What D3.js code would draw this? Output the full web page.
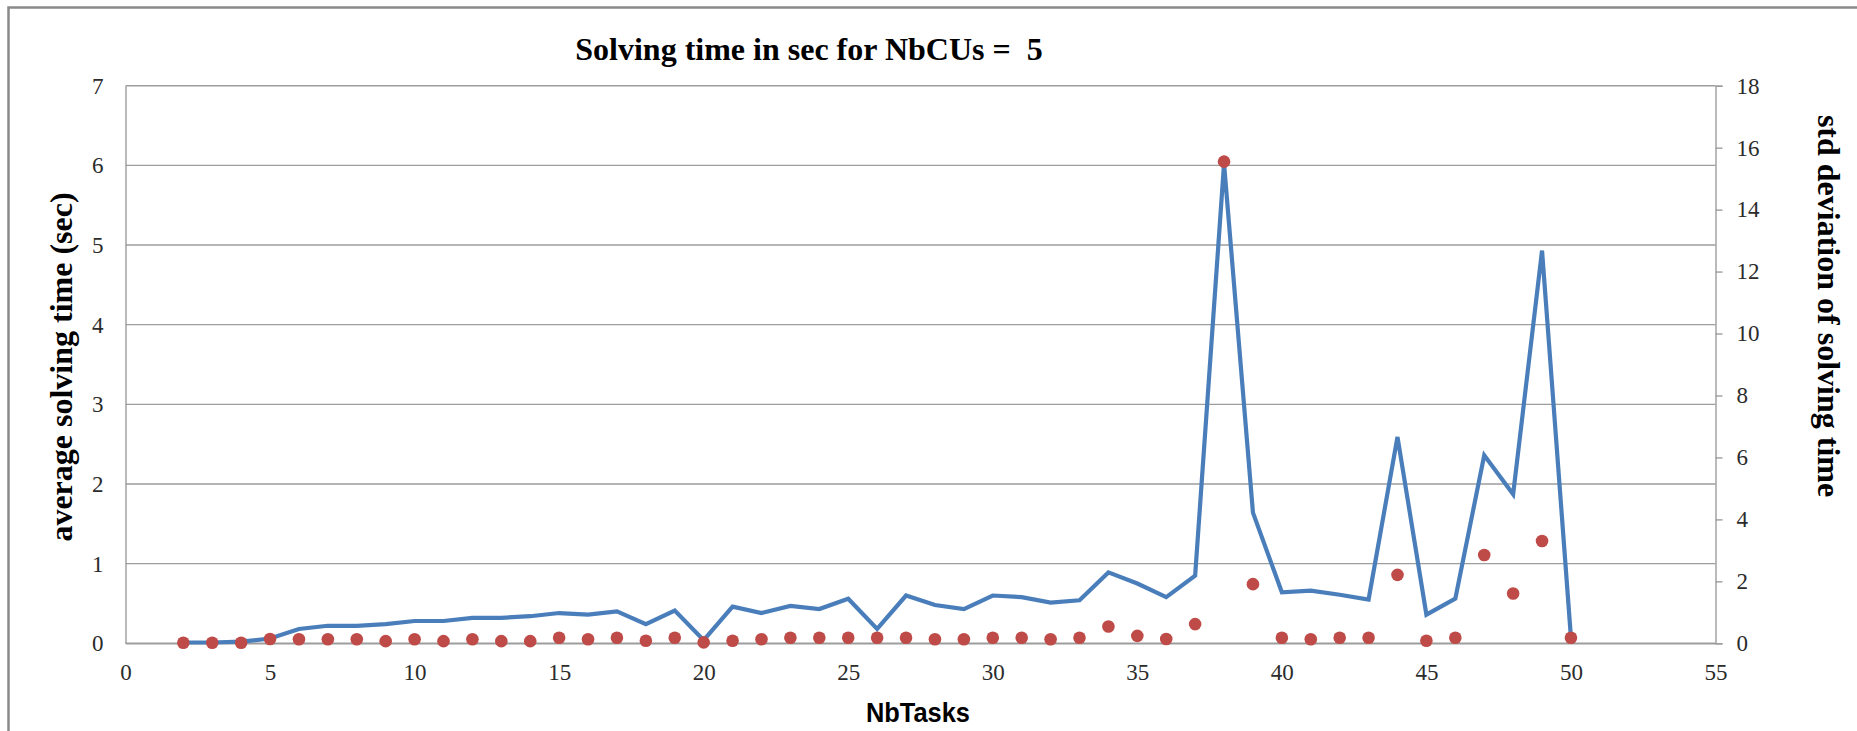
<!DOCTYPE html>
<html>
<head>
<meta charset="utf-8">
<script src="https://cdn.jsdelivr.net/npm/d3@7/dist/d3.min.js"></script>
<style>
  html, body { margin: 0; padding: 0; background: #fff; }
  svg { display: block; }
  .serif { font-family: "Liberation Serif", "Times New Roman", serif; }
</style>
</head>
<body>
<svg id="chart" width="1857" height="731"></svg>
<script>
// Number of tasks (x values)
const nbTasks = [2,3,4,5,6,7,8,9,10,11,12,13,14,15,16,17,18,19,20,21,22,23,24,25,26,
                 27,28,29,30,31,32,33,34,35,36,37,38,39,40,41,42,43,44,45,46,47,48,49,50];

// Average solving time in seconds (left axis, line)
const avgTime = [0.01,0.01,0.02,0.06,0.18,0.22,0.22,0.24,0.28,0.28,0.32,0.32,0.34,0.38,0.36,0.40,
                 0.24,0.41,0.04,0.46,0.38,0.47,0.43,0.56,0.18,0.60,0.48,0.43,0.60,0.58,0.51,0.54,
                 0.89,0.75,0.58,0.85,6.02,1.64,0.64,0.66,0.61,0.55,2.59,0.36,0.56,2.36,1.87,4.93,0.07];

// Standard deviation of solving time (right axis, markers)
const stdTime = [0.02,0.02,0.02,0.14,0.13,0.13,0.13,0.07,0.13,0.07,0.13,0.07,0.07,0.18,0.13,0.18,
                 0.08,0.18,0.03,0.08,0.13,0.18,0.18,0.18,0.18,0.18,0.13,0.13,0.18,0.18,0.13,0.18,
                 0.54,0.24,0.14,0.62,15.55,1.91,0.18,0.13,0.18,0.18,2.21,0.08,0.18,2.85,1.61,3.30,0.18];

// Tick values
const xTicks = [0,5,10,15,20,25,30,35,40,45,50,55];
const leftTicks = [0,1,2,3,4,5,6,7];
const rightTicks = [0,2,4,6,8,10,12,14,16,18];

const titleText = "Solving time in sec for NbCUs =  5";
const xTitle = "NbTasks";
const leftTitle = "average solving time (sec)";
const rightTitle = "std deviation of solving time";

const svg = d3.select("#chart");

const plot = { left: 125.5, right: 1715.5, top: 85.7, bottom: 643.3 };

const x = d3.scaleLinear().domain([0, 55]).range([plot.left, plot.right]);
const yL = d3.scaleLinear().domain([0, 7]).range([plot.bottom, plot.top]);
const yR = d3.scaleLinear().domain([0, 18]).range([plot.bottom, plot.top]);

const gridColor = "#9d9d9d";
const labelColor = "#2b2b2b";
const intFmt = d3.format("d");

// Outer chart frame
svg.append("rect")
  .attr("x", 8.5).attr("y", 7.5)
  .attr("width", 1900).attr("height", 800)
  .attr("fill", "none")
  .attr("stroke", "#8a8a8a")
  .attr("stroke-width", 2.5);

// Horizontal gridlines (left axis)
svg.append("g")
  .selectAll("line")
  .data(leftTicks)
  .join("line")
  .attr("x1", plot.left).attr("x2", plot.right)
  .attr("y1", d => yL(d)).attr("y2", d => yL(d))
  .attr("stroke", gridColor)
  .attr("stroke-width", 1.4);

function styleLabels(g) {
  g.selectAll("text")
    .attr("class", "serif")
    .style("font-size", "23px")
    .attr("fill", labelColor)
    .attr("font-family", null);
}

// Left axis: line and labels
const leftAxis = d3.axisLeft(yL).tickValues(leftTicks).tickFormat(intFmt).tickSize(0).tickPadding(22);
const gL = svg.append("g").attr("transform", `translate(${plot.left},0)`).call(leftAxis);
gL.select(".domain").attr("stroke", gridColor).attr("stroke-width", 1.4);
styleLabels(gL);

// Right axis: line, outward ticks and labels
const rightAxis = d3.axisRight(yR).tickValues(rightTicks).tickFormat(intFmt).tickSize(7).tickPadding(14);
const gR = svg.append("g").attr("transform", `translate(${plot.right},0)`).call(rightAxis);
gR.select(".domain").attr("stroke", gridColor).attr("stroke-width", 1.4);
gR.selectAll(".tick line").attr("stroke", gridColor).attr("stroke-width", 1.4);
styleLabels(gR);

// Bottom axis labels
const bottomAxis = d3.axisBottom(x).tickValues(xTicks).tickFormat(intFmt).tickSize(0).tickPadding(20);
const gB = svg.append("g").attr("transform", `translate(0,${plot.bottom})`).call(bottomAxis);
gB.select(".domain").attr("stroke", gridColor).attr("stroke-width", 1.4);
styleLabels(gB);

// Average solving time line
const line = d3.line()
  .x((d, i) => x(nbTasks[i]))
  .y(d => yL(d));

svg.append("path")
  .datum(avgTime)
  .attr("d", line)
  .attr("fill", "none")
  .attr("stroke", "#4a7ebb")
  .attr("stroke-width", 4.2)
  .attr("stroke-linejoin", "miter");

// Standard deviation markers
svg.append("g")
  .selectAll("circle")
  .data(stdTime)
  .join("circle")
  .attr("cx", (d, i) => x(nbTasks[i]))
  .attr("cy", d => yR(d))
  .attr("r", 6.3)
  .attr("fill", "#be4b48");

// Title
svg.append("text")
  .attr("class", "serif")
  .attr("x", 809).attr("y", 60)
  .attr("text-anchor", "middle")
  .style("font-size", "32px")
  .style("font-weight", "bold")
  .style("white-space", "pre")
  .attr("fill", "#000")
  .text(titleText);

// X axis title
svg.append("text")
  .attr("x", 918).attr("y", 722)
  .attr("text-anchor", "middle")
  .style("font-family", "'Liberation Sans', Arial, sans-serif")
  .style("font-size", "27px")
  .style("font-weight", "bold")
  .attr("textLength", 104)
  .attr("lengthAdjust", "spacingAndGlyphs")
  .attr("fill", "#000")
  .text(xTitle);

// Left axis title
svg.append("text")
  .attr("class", "serif")
  .attr("transform", "translate(72,367) rotate(-90)")
  .attr("text-anchor", "middle")
  .style("font-size", "32px")
  .style("font-weight", "bold")
  .attr("fill", "#000")
  .text(leftTitle);

// Right axis title
svg.append("text")
  .attr("class", "serif")
  .attr("transform", "translate(1818,306) rotate(90)")
  .attr("text-anchor", "middle")
  .style("font-size", "32px")
  .style("font-weight", "bold")
  .attr("fill", "#000")
  .text(rightTitle);
</script>
</body>
</html>
